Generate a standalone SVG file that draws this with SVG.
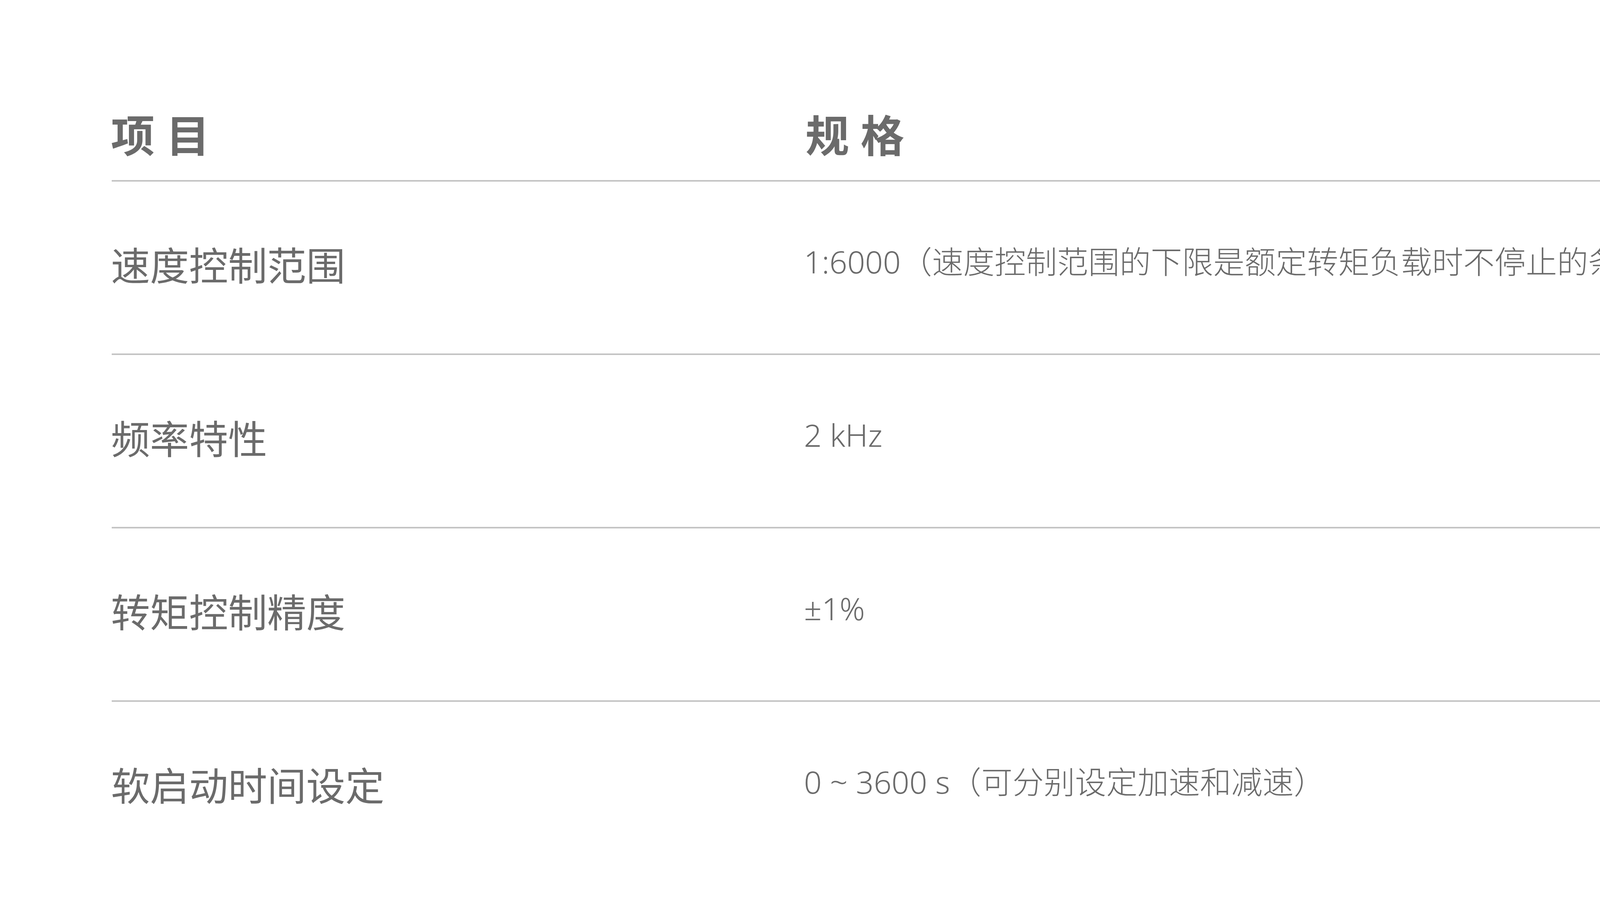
<svg xmlns="http://www.w3.org/2000/svg" width="6667" height="2353" viewBox="0 0 6667 2353">
<style>
text{font-family:"Noto Sans","Noto Sans CJK SC",sans-serif;fill:#6b6b6b}
.h{font-size:112px;font-weight:bold}
.l{font-size:100px}
.s{font-size:80px;font-weight:300}
line{stroke:#c4c4c4;stroke-width:4}
</style>
<rect width="6667" height="2353" fill="#fff"/>
<g id="header"><text class="h" x="284" y="390">项 目</text><text class="h" x="2062" y="390">规 格</text></g>
<g id="lines">
<line x1="286" y1="463" x2="6384" y2="463"/>
<line x1="286" y1="907" x2="6384" y2="907"/>
<line x1="286" y1="1351" x2="6384" y2="1351"/>
<line x1="286" y1="1795" x2="6384" y2="1795"/>
</g>
<g id="row1"><text class="l" x="284" y="718">速度控制范围</text><text class="s" x="2058" y="700">1:6000（速度控制范围的下限是额定转矩负载时不停止的条件）</text></g>
<g id="row2"><text class="l" x="284" y="1162">频率特性</text><text class="s" x="2058" y="1144">2 kHz</text></g>
<g id="row3"><text class="l" x="284" y="1606">转矩控制精度</text><text class="s" x="2058" y="1588">±1%</text></g>
<g id="row4"><text class="l" x="284" y="2050">软启动时间设定</text><text class="s" x="2058" y="2032">0 ~ 3600 s（可分别设定加速和减速）</text></g>
</svg>
